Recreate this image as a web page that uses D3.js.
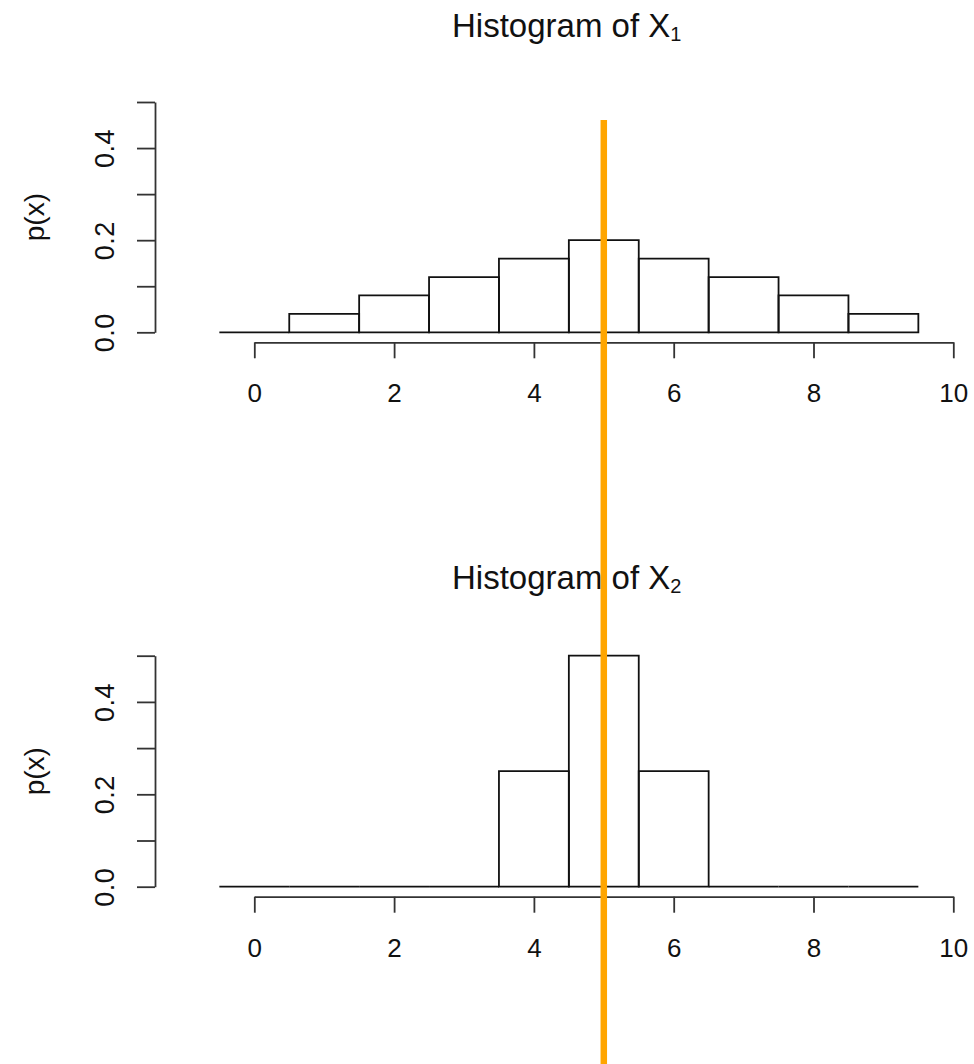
<!DOCTYPE html>
<html>
<head>
<meta charset="utf-8">
<script src="https://cdn.jsdelivr.net/npm/d3@7"></script>
<style>
  html, body { margin: 0; padding: 0; background: #fff; }
  svg { display: block; }
  text { font-family: "Liberation Sans", Arial, sans-serif; fill: #111; }
</style>
</head>
<body>
<svg id="chart" width="974" height="1064"></svg>
<script>
// ---- data ----
const binCenters = [0, 1, 2, 3, 4, 5, 6, 7, 8, 9];
const densityX1 = [0, 0.04, 0.08, 0.12, 0.16, 0.2, 0.16, 0.12, 0.08, 0.04];
const densityX2 = [0, 0, 0, 0, 0.25, 0.5, 0.25, 0, 0, 0];
const xTicks = [0, 2, 4, 6, 8, 10];
const yTicks = [0, 0.1, 0.2, 0.3, 0.4, 0.5];
const yTickLabels = ["0.0", "", "0.2", "", "0.4", ""];
const panelTitles = ["1", "2"]; // subscripts for "Histogram of X"
const meanLine = 5;

// ---- layout ----
const svg = d3.select("#chart");
const x = d3.scaleLinear().domain([0, 10]).range([254.3, 953.3]);
const panels = [
  { data: densityX1, sub: panelTitles[0], y0: 332.3, y1: 102.0, titleY: 37 },
  { data: densityX2, sub: panelTitles[1], y0: 886.7, y1: 655.7, titleY: 589 }
];
const axisColor = "#333";
const tickFont = 26;
const FF = '"Liberation Sans", Arial, sans-serif';

panels.forEach(p => {
  const y = d3.scaleLinear().domain([0, 0.5]).range([p.y0, p.y1]);
  const g = svg.append("g");

  // bars (paths so zero-height bins still show as a line)
  g.selectAll("path.bar").data(binCenters).join("path")
    .attr("class", "bar")
    .attr("d", (d, i) => {
      const x0 = x(d - 0.5), x1 = x(d + 0.5), yb = y(0), yt = y(p.data[i]);
      return `M${x0},${yb}V${yt}H${x1}V${yb}Z`;
    })
    .attr("fill", "none")
    .attr("stroke", "#111")
    .attr("stroke-width", 1.8);

  // x axis
  const axY = p.y0 + 10;
  const xa = g.append("g").attr("transform", `translate(0,${axY})`)
    .call(d3.axisBottom(x).tickValues(xTicks).tickSize(16).tickSizeOuter(0).tickFormat(d3.format("d")));
  xa.select(".domain").attr("stroke", axisColor).attr("stroke-width", 1.8);
  xa.selectAll(".tick line").attr("stroke", axisColor).attr("stroke-width", 1.8);
  xa.selectAll(".tick text")
    .attr("y", 0).attr("dy", null)
    .attr("transform", "translate(0,51)")
    .attr("dominant-baseline", "central")
    .style("font-size", tickFont + "px")
    .style("font-family", FF)
    .attr("fill", "#111");

  // y axis
  const ya = g.append("g").attr("transform", "translate(155,0)")
    .call(d3.axisLeft(y).tickValues(yTicks).tickSize(18).tickSizeOuter(0)
      .tickFormat((d, i) => yTickLabels[i]));
  ya.select(".domain").attr("stroke", axisColor).attr("stroke-width", 1.8);
  ya.selectAll(".tick line").attr("stroke", axisColor).attr("stroke-width", 1.8);
  ya.selectAll(".tick text")
    .attr("x", null).attr("dy", null)
    .attr("transform", "translate(-50,0) rotate(-90)")
    .attr("text-anchor", "middle")
    .attr("dominant-baseline", "central")
    .style("font-size", "27px")
    .style("letter-spacing", "0.5px")
    .style("font-family", FF)
    .attr("fill", "#111");

  // y label
  g.append("text")
    .attr("transform", `translate(34,${(p.y0 + p.y1) / 2}) rotate(-90)`)
    .attr("text-anchor", "middle")
    .attr("dominant-baseline", "central")
    .style("font-size", "28px")
    .text("p(x)");

  // title
  const t = g.append("text")
    .attr("x", 566.7)
    .attr("y", p.titleY)
    .attr("text-anchor", "middle")
    .style("font-size", "33px");
  t.append("tspan").text("Histogram of X");
  t.append("tspan").attr("dy", 4).style("font-size", "20px").text(p.sub);
});

// vertical reference line
svg.append("line")
  .attr("x1", x(meanLine)).attr("x2", x(meanLine))
  .attr("y1", 120).attr("y2", 1064)
  .attr("stroke", "#FFA500")
  .attr("stroke-width", 6.5);
</script>
</body>
</html>
